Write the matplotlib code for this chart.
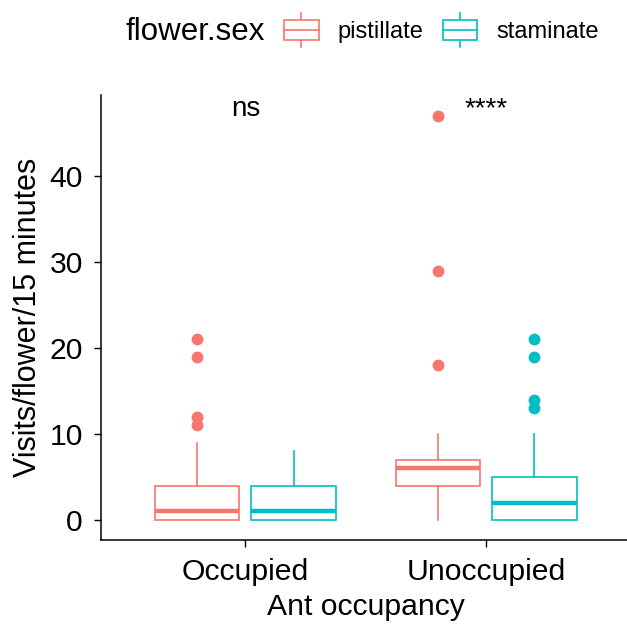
import matplotlib
matplotlib.use("Agg")
import matplotlib.pyplot as plt
from matplotlib.legend_handler import HandlerBase
from matplotlib.patches import Rectangle
from matplotlib.lines import Line2D
from matplotlib.offsetbox import HPacker

plt.rcParams['font.family'] = ['Liberation Sans', 'DejaVu Sans']

# ---- data ----
groups = ["Occupied", "Unoccupied"]
sexes = ["pistillate", "staminate"]
colors = {"pistillate": "#F8766D", "staminate": "#00BFC4"}

q1 = {"pistillate": [0, 4], "staminate": [0, 0]}
med = {"pistillate": [1, 6], "staminate": [1, 2]}
q3 = {"pistillate": [4, 7], "staminate": [4, 5]}
whislo = {"pistillate": [0, 0], "staminate": [0, 0]}
whishi = {"pistillate": [9, 10], "staminate": [8, 10]}
fliers = {"pistillate": [[21, 19, 12, 11], [47, 29, 18]],
          "staminate": [[], [21, 19, 14, 13]]}
sig_labels = ["ns", "****"]
sig_y = 47.0
yticks = [0, 10, 20, 30, 40]

W, H = 627, 625
fig = plt.figure(figsize=(W / 100, H / 100), dpi=100)
ax = fig.add_axes([101 / W, 1 - 540 / H, (630.7 - 101) / W, (540 - 95) / H])

offsets = {"pistillate": -0.2, "staminate": 0.2}
for s in sexes:
    stats = []
    for i in range(len(groups)):
        stats.append(dict(q1=q1[s][i], med=med[s][i], q3=q3[s][i],
                          whislo=whislo[s][i], whishi=whishi[s][i],
                          fliers=fliers[s][i]))
    pos = [i + 1 + offsets[s] for i in range(len(groups))]
    c = colors[s]
    ax.bxp(stats, positions=pos, widths=0.35, showcaps=False, patch_artist=True,
           boxprops=dict(facecolor="white", edgecolor=c, linewidth=1.2),
           whiskerprops=dict(color=c, linewidth=1.2),
           medianprops=dict(color=c, linewidth=3.2, solid_capstyle="butt"),
           flierprops=dict(marker="o", markerfacecolor=c, markeredgecolor=c,
                           markersize=7.5, linestyle="none"))

ax.set_xlim(0.4, 2.6)
ax.set_ylim(-2.326, 49.42)
ax.set_xticks([1, 2])
ax.set_xticklabels(groups)
ax.set_yticks(yticks)
ax.tick_params(axis="both", labelsize=21.7, length=5, width=1, color="black",
               labelcolor="black", pad=8)
for sp in ["top", "right"]:
    ax.spines[sp].set_visible(False)
for sp in ["left", "bottom"]:
    ax.spines[sp].set_linewidth(1.1)
    ax.spines[sp].set_color("black")
ax.set_xlabel("Ant occupancy", fontsize=21.7, labelpad=5)
ax.set_ylabel("Visits/flower/15 minutes", fontsize=22, labelpad=5)

# significance labels
for i, lab in enumerate(sig_labels):
    ax.text(i + 1, sig_y, lab, ha="center", va="baseline", fontsize=20)


class BoxHandler(HandlerBase):
    def create_artists(self, legend, orig_handle, xdescent, ydescent,
                       width, height, fontsize, trans):
        c = orig_handle.get_color()
        cx = -xdescent + width / 2
        yb = -ydescent
        h = height
        arts = [
            Line2D([cx, cx], [yb - 0.38 * h, yb + 1.38 * h], color=c, lw=1.2),
            Rectangle((-xdescent, yb), width, h, facecolor="white",
                      edgecolor=c, lw=1.2),
            Line2D([-xdescent, -xdescent + width], [yb + h / 2, yb + h / 2],
                   color=c, lw=1.2),
        ]
        for a in arts:
            a.set_transform(trans)
        return arts


handles = [Line2D([], [], color=colors[s]) for s in sexes]
leg = fig.legend(handles, sexes, loc="center", bbox_to_anchor=(362 / W, 1 - 31.5 / H),
                 ncol=2, frameon=False, fontsize=17, title="flower.sex",
                 title_fontsize=22.5, handler_map={Line2D: BoxHandler()},
                 handlelength=1.48, handleheight=0.89, handletextpad=0.8,
                 columnspacing=0.8, borderpad=0)
title_box = leg._legend_title_box
entries = leg._legend_handle_box
leg._legend_box._children = [HPacker(pad=0, sep=14, children=[title_box, entries],
                                     align="center")]

fig.savefig("out.png", dpi=100)
